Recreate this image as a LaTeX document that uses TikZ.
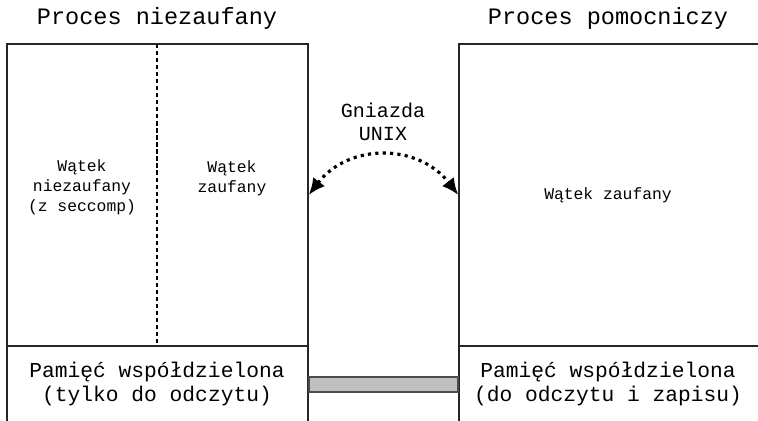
\documentclass[tikz,border=0pt]{standalone}
\usepackage{fontspec}
\setmainfont{Liberation Mono}
\usetikzlibrary{arrows.meta,fit}

\tikzset{
  procbox/.style={draw=black!85, line width=0.85pt, inner sep=0pt},
  shmlink/.style={draw=black!70, fill=black!25, line width=0.9pt},
  socket/.style={line width=1.8pt, dash pattern=on 1.8pt off 2.4pt,
    {Latex[length=9.5pt,width=8.5pt]}-{Latex[length=9.5pt,width=8.5pt]}},
  threadsep/.style={line width=0.6pt, dash pattern=on 2.4pt off 1.6pt},
  titletext/.style={font=\fontsize{13.4}{16}\selectfont, inner sep=0pt},
  threadtext/.style={font=\fontsize{9.3}{11.4}\selectfont, align=center, inner sep=0pt},
  shmtext/.style={font=\fontsize{12.1}{14.2}\selectfont, align=center, inner sep=0pt},
}

\begin{document}
\begin{tikzpicture}[x=0.02cm, y=-0.02cm]
  \useasboundingbox (0,0) rectangle (758,421);
  \clip (0,0) rectangle (758,421);

  % Process titles
  \node[titletext] (untrustedtitle) at (157,18) {Proces niezaufany};
  \node[titletext] (helpertitle) at (608,18) {Proces pomocniczy};

  % Untrusted process: threads and shared memory
  \node[procbox, fit={(7,44) (308,346)}] (untrusted) {};
  \node[procbox, fit={(7,346) (308,440)}] (leftshm) {};
  \draw[threadsep] (157,44) -- (157,346);
  \node[threadtext] (sandboxed) at (82,187) {Wątek\\niezaufany\\(z seccomp)};
  \node[threadtext] (trustedleft) at (232,178) {Wątek\\zaufany};
  \node[shmtext] (roshm) at (157,384) {Pamięć współdzielona\\(tylko do odczytu)};

  % Helper process
  \node[procbox, fit={(459,44) (780,346)}] (helper) {};
  \node[procbox, fit={(459,346) (780,440)}] (rightshm) {};
  \node[threadtext] (trustedright) at (608,195) {Wątek zaufany};
  \node[shmtext] (rwshm) at (608,384) {Pamięć współdzielona\\(do odczytu i zapisu)};

  % Shared memory mapping between both processes
  \draw[shmlink] (leftshm.east |- 0,377) rectangle (rightshm.west |- 0,392);

  % UNIX socket
  \node[font=\fontsize{11.4}{13.1}\selectfont, align=center, inner sep=0pt] (socketlabel) at (383,122) {Gniazda\\UNIX};
  \draw[socket] (untrusted.east) .. controls +(40,-52) and +(-40,-52) .. (helper.west);
\end{tikzpicture}
\end{document}
